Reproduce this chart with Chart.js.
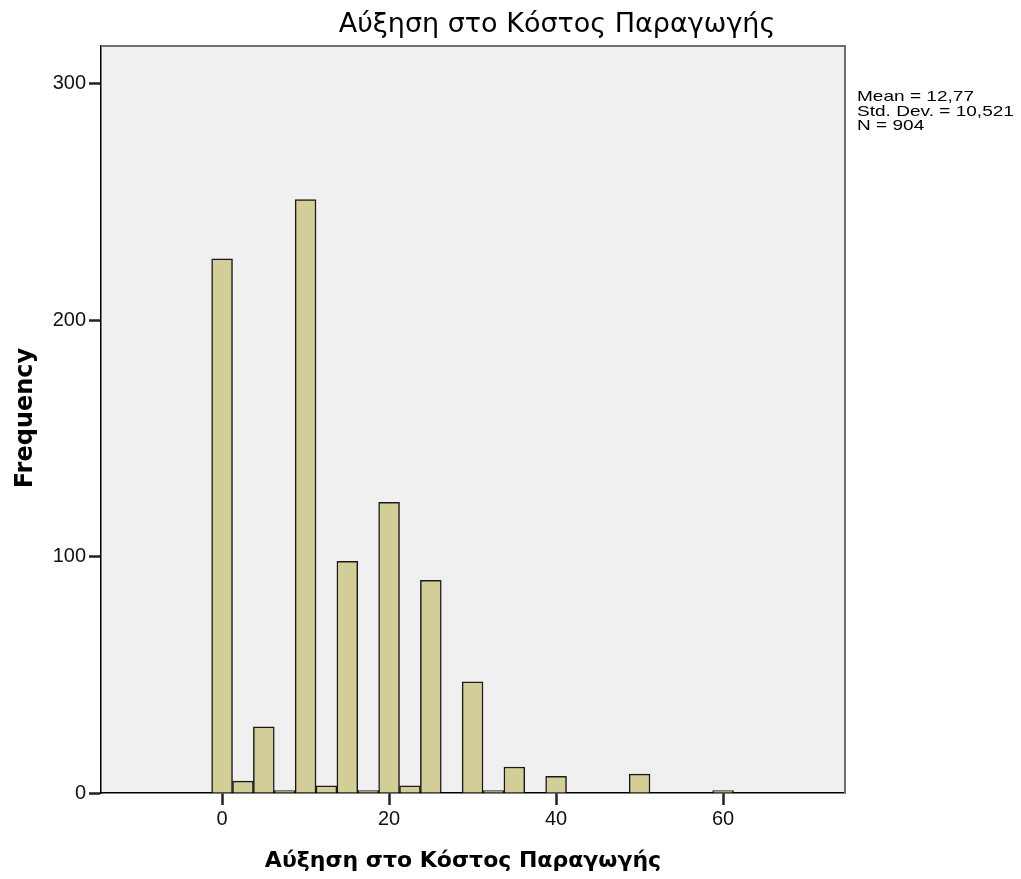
<!DOCTYPE html>
<html>
<head>
<meta charset="utf-8">
<script src="https://cdn.jsdelivr.net/npm/chart.js@4"></script>
<style>
  body { margin: 0; background: #fff; }
</style>
</head>
<body>
<canvas id="histChart" width="1021" height="879"></canvas>
<script>
// Histogram bins (bin centres) and counts
const binCenters = [0, 2.5, 5, 7.5, 10, 12.5, 15, 17.5, 20, 22.5, 25, 27.5, 30,
                    32.5, 35, 37.5, 40, 42.5, 45, 47.5, 50, 52.5, 55, 57.5, 60];
const frequencies = [226, 5, 28, 1, 251, 3, 98, 1, 123, 3, 90, 0, 47,
                     1, 11, 0, 7, 0, 0, 0, 8, 0, 0, 0, 1];
const xTicks = [0, 20, 40, 60];
const yTicks = [0, 100, 200, 300];
const statLines = ['Mean = 12,77', 'Std. Dev. = 10,521', 'N = 904'];
const chartTitle = 'Αύξηση στο Κόστος Παραγωγής';
const xTitle = 'Αύξηση στο Κόστος Παραγωγής';
const yTitle = 'Frequency';

// ----------------------
// Extra drawing: plot background, frame, titles, stats box
// ----------------------
const spssDecor = {
    id: 'spssDecor',
    beforeDraw(chart) {
        const { ctx, chartArea: a } = chart;
        ctx.save();
        ctx.fillStyle = '#f0f0f0';
        ctx.fillRect(a.left, a.top, a.right - a.left, a.bottom - a.top);
        ctx.restore();
    },
    afterDraw(chart) {
        const { ctx, chartArea: a } = chart;
        ctx.save();
        // gray frame on top and right
        ctx.strokeStyle = '#6e6e6e';
        ctx.lineWidth = 2;
        ctx.beginPath();
        ctx.moveTo(a.left, a.top);
        ctx.lineTo(a.right, a.top);
        ctx.lineTo(a.right, a.bottom);
        ctx.stroke();

        ctx.fillStyle = '#000';
        ctx.textAlign = 'center';
        ctx.textBaseline = 'alphabetic';

        // main title
        ctx.font = '27px "DejaVu Sans"';
        ctx.fillText(chartTitle, 557, 32);

        // x axis title
        ctx.font = 'bold 22px "DejaVu Sans"';
        ctx.fillText(xTitle, 463, 867);

        // y axis title (rotated)
        ctx.save();
        ctx.translate(32, 418);
        ctx.rotate(-Math.PI / 2);
        ctx.font = 'bold 24px "DejaVu Sans"';
        ctx.fillText(yTitle, 0, 0);
        ctx.restore();

        // stats text, drawn a bit wide like the original
        ctx.textAlign = 'left';
        ctx.font = '15px "Liberation Sans"';
        statLines.forEach((line, i) => {
            ctx.save();
            ctx.translate(857, 101 + i * 14.5);
            ctx.scale(1.27, 1);
            ctx.fillText(line, 0, 0);
            ctx.restore();
        });
        ctx.restore();
    }
};

const ctx = document.getElementById('histChart').getContext('2d');

new Chart(ctx, {
    type: 'bar',
    data: {
        datasets: [{
            label: 'Frequency',
            data: binCenters.map((x, i) => ({ x: x, y: frequencies[i] })),
            backgroundColor: '#d3ce97',
            borderColor: '#1a1a1a',
            borderWidth: 1.5,
            barPercentage: 1,
            categoryPercentage: 1
        }]
    },
    options: {
        responsive: false,
        animation: false,
        layout: { padding: { top: 46, right: 176, left: 0, bottom: 0 } },
        plugins: {
            legend: { display: false },
            tooltip: { enabled: false },
            title: { display: false }
        },
        scales: {
            x: {
                type: 'linear',
                offset: false,
                min: -14.5,
                max: 74.6,
                afterFit(s) { s.height = 86; },
                afterBuildTicks(s) { s.ticks = xTicks.map(v => ({ value: v })); },
                ticks: {
                    color: '#111',
                    padding: 2,
                    font: { family: 'Liberation Sans', size: 20 },
                    callback: v => v
                },
                grid: {
                    offset: false,
                    drawOnChartArea: false,
                    drawTicks: true,
                    tickLength: 12,
                    tickColor: '#222',
                    tickWidth: 2.5
                },
                border: { color: '#000', width: 1.5 }
            },
            y: {
                min: 0,
                max: 316,
                afterFit(s) { s.width = 101; },
                afterBuildTicks(s) { s.ticks = yTicks.map(v => ({ value: v })); },
                ticks: {
                    color: '#111',
                    padding: 3,
                    font: { family: 'Liberation Sans', size: 20 },
                    callback: v => v
                },
                grid: {
                    drawOnChartArea: false,
                    drawTicks: true,
                    tickLength: 12,
                    tickColor: '#222',
                    tickWidth: 2.5
                },
                border: { color: '#000', width: 1.5 }
            }
        }
    },
    plugins: [spssDecor]
});
</script>
</body>
</html>
